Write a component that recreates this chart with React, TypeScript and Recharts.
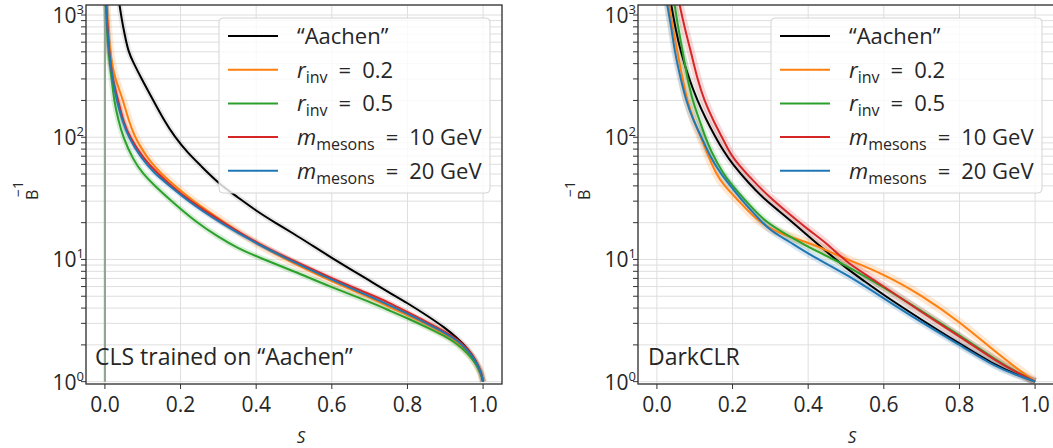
import React from 'react';
import { LineChart, Line, XAxis, YAxis, CartesianGrid } from 'recharts';

type Pt = [number, number];

const FONT = '"Open Sans", "DejaVu Sans", sans-serif';

const S_TICKS = [0, 0.2, 0.4, 0.6, 0.8, 1.0];
const B_TICKS = [1, 2, 3, 4, 5, 6, 7, 8, 9, 10, 20, 30, 40, 50, 60, 70, 80, 90, 100, 200, 300, 400, 500, 600, 700, 800, 900, 1000];
const Y_MIN = 0.957;
const Y_MAX = 1208;

const LEGEND_MAIN = ['“Aachen”', 'r', 'r', 'm', 'm'];
const LEGEND_SUB = ['', 'inv', 'inv', 'mesons', 'mesons'];
const LEGEND_REST = ['', '\u2002=\u20020.2', '\u2002=\u20020.5', '\u2002=\u200210 GeV', '\u2002=\u200220 GeV'];
const COLORS = ['#000000', '#ff7f0e', '#2ca02c', '#d62728', '#1f77b4'];
const BAND_COLORS = ['#7f7f7f', '#ff7f0e', '#2ca02c', '#d62728', '#1f77b4'];

// left panel: CLS trained on "Aachen"
const clsAachen: Pt[] = [[0.033, 1600], [0.037, 1300], [0.045, 900], [0.052, 700], [0.062, 500], [0.075, 410], [0.097, 300], [0.128, 200], [0.155, 140], [0.185, 100], [0.22, 74], [0.25, 60], [0.3, 42], [0.35, 32.5], [0.4, 25], [0.45, 20], [0.5, 16.2], [0.55, 12.9], [0.6, 10.3], [0.65, 8.3], [0.7, 6.7], [0.75, 5.4], [0.8, 4.4], [0.85, 3.5], [0.9, 2.75], [0.93, 2.3], [0.96, 1.85], [0.98, 1.5], [0.995, 1.18], [1, 1]];
const clsR02: Pt[] = [[0.002, 1500], [0.006, 1000], [0.013, 500], [0.02, 380], [0.028, 300], [0.035, 260], [0.048, 200], [0.062, 140], [0.079, 100], [0.1, 78], [0.12, 63], [0.15, 50], [0.185, 40], [0.234, 30], [0.317, 20], [0.41, 12.8], [0.5, 9.3], [0.6, 6.6], [0.7, 4.9], [0.754, 4.05], [0.8, 3.5], [0.85, 2.95], [0.9, 2.45], [0.93, 2.15], [0.96, 1.75], [0.98, 1.45], [0.995, 1.2], [1, 1]];
const clsR05: Pt[] = [[0.002, 1300], [0.005, 800], [0.009, 500], [0.018, 300], [0.024, 200], [0.035, 140], [0.048, 100], [0.075, 65], [0.101, 50], [0.132, 40], [0.176, 30], [0.243, 20], [0.3, 15.3], [0.35, 12.4], [0.41, 10.3], [0.5, 8.0], [0.6, 5.9], [0.7, 4.5], [0.754, 3.8], [0.8, 3.3], [0.85, 2.8], [0.9, 2.35], [0.93, 2.05], [0.96, 1.7], [0.98, 1.42], [0.995, 1.15], [1, 1]];
const clsM10: Pt[] = [[0.002, 1500], [0.006, 900], [0.011, 500], [0.02, 300], [0.035, 200], [0.05, 130], [0.066, 100], [0.1, 68], [0.141, 50], [0.176, 40], [0.225, 30], [0.313, 20], [0.41, 13.2], [0.5, 9.7], [0.6, 7.0], [0.7, 5.2], [0.754, 4.4], [0.8, 3.7], [0.85, 3.1], [0.9, 2.55], [0.93, 2.25], [0.96, 1.85], [0.98, 1.5], [0.995, 1.2], [1, 1]];
const clsM20: Pt[] = [[0.002, 1400], [0.006, 800], [0.011, 500], [0.02, 300], [0.031, 200], [0.045, 140], [0.062, 100], [0.095, 68], [0.132, 50], [0.172, 40], [0.22, 30], [0.304, 20], [0.41, 13], [0.5, 9.5], [0.6, 6.8], [0.7, 5.0], [0.754, 4.2], [0.8, 3.6], [0.85, 3.0], [0.9, 2.5], [0.93, 2.2], [0.96, 1.8], [0.98, 1.48], [0.995, 1.2], [1, 1]];
const clsRandom: Pt[] = [[0, 1], [0, 1500]];

// right panel: DarkCLR
const clrAachen: Pt[] = [[0.033, 1500], [0.038, 1200], [0.05, 750], [0.063, 500], [0.085, 300], [0.107, 200], [0.13, 140], [0.155, 100], [0.175, 78], [0.2, 60], [0.243, 42], [0.28, 32], [0.322, 25], [0.36, 20], [0.4, 15.5], [0.45, 11.5], [0.5, 8.5], [0.55, 6.6], [0.6, 5.1], [0.7, 3.2], [0.8, 2.05], [0.9, 1.33], [0.95, 1.15], [1, 1]];
const clrR02: Pt[] = [[0.03, 1500], [0.032, 1200], [0.045, 700], [0.054, 500], [0.068, 300], [0.08, 200], [0.1, 130], [0.116, 100], [0.13, 78], [0.156, 50], [0.178, 40], [0.217, 30], [0.27, 20], [0.33, 16], [0.406, 13.6], [0.45, 11.8], [0.5, 10.1], [0.6, 7.6], [0.7, 5.1], [0.8, 3.1], [0.9, 1.7], [0.95, 1.3], [1, 1]];
const clrR05: Pt[] = [[0.043, 1500], [0.047, 1200], [0.056, 800], [0.068, 500], [0.081, 300], [0.094, 200], [0.112, 140], [0.128, 100], [0.142, 78], [0.175, 50], [0.2, 40], [0.235, 30], [0.288, 20], [0.35, 15.5], [0.406, 12.3], [0.5, 9.0], [0.6, 5.9], [0.7, 3.8], [0.8, 2.4], [0.9, 1.48], [0.95, 1.2], [1, 1]];
const clrM10: Pt[] = [[0.055, 1500], [0.06, 1200], [0.075, 750], [0.09, 500], [0.107, 300], [0.125, 200], [0.15, 135], [0.172, 100], [0.188, 80], [0.2, 68], [0.26, 42], [0.3, 32], [0.34, 25], [0.4, 17.5], [0.45, 13.5], [0.5, 9.6], [0.55, 7.6], [0.6, 6.0], [0.7, 3.7], [0.8, 2.35], [0.9, 1.45], [0.95, 1.2], [1, 1]];
const clrM20: Pt[] = [[0.024, 1500], [0.027, 1200], [0.038, 800], [0.047, 500], [0.063, 300], [0.077, 200], [0.095, 140], [0.118, 100], [0.14, 70], [0.169, 50], [0.195, 40], [0.226, 30], [0.279, 20], [0.3, 17.3], [0.35, 14], [0.406, 10.8], [0.5, 7.6], [0.6, 4.8], [0.7, 3.05], [0.8, 2.0], [0.9, 1.3], [0.95, 1.14], [1, 1]];

const toRows = (pts: Pt[]) => pts.map(([s, v]) => ({ s, v }));

const YTick = (props: any) => {
  const { x, y, payload } = props;
  const v = payload.value;
  const exp = Math.round(Math.log10(v));
  if (Math.abs(v - Math.pow(10, exp)) > 1e-6) return <g />;
  return (
    <text x={x + 5} y={y + 8} textAnchor="end" fontSize={21} fill="#262626" fontFamily={FONT}>
      10<tspan fontSize={13} dy={-9}>{exp}</tspan>
    </text>
  );
};

interface PanelProps {
  left: number;
  width: number;
  axisWidth: number;
  marginRight: number;
  series: Pt[][];
  bandWidths: number[];
  extra?: Pt[];
}

const Panel: React.FC<PanelProps> = ({ left, width, axisWidth, marginRight, series, bandWidths, extra }) => (
  <div style={{ position: 'absolute', left, top: 0 }}>
    <LineChart width={width} height={448} margin={{ top: 5, right: marginRight, bottom: 24, left: 0 }}>
      <CartesianGrid stroke="#dedede" />
      <XAxis
        type="number"
        dataKey="s"
        domain={[-0.05, 1.05]}
        ticks={S_TICKS}
        interval={0}
        allowDataOverflow
        height={40}
        tickFormatter={(v: number) => v.toFixed(1)}
        axisLine={false}
        tickLine={{ stroke: '#333' }}
        tickSize={5}
        tickMargin={8}
        tick={{ fontSize: 21, fill: '#262626', fontFamily: FONT }}
      />
      <YAxis
        type="number"
        scale="log"
        domain={[Y_MIN, Y_MAX]}
        ticks={B_TICKS}
        interval={0}
        allowDataOverflow
        width={axisWidth}
        axisLine={false}
        tickLine={{ stroke: '#333' }}
        tickSize={5}
        tick={<YTick />}
      />
      {series.map((pts, i) => (
        <Line
          key={`band-${i}`}
          data={toRows(pts)}
          dataKey="v"
          type="basis"
          dot={false}
          stroke={BAND_COLORS[i]}
          strokeOpacity={0.18}
          strokeWidth={bandWidths[i]}
          isAnimationActive={false}
        />
      ))}
      {extra && (
        <Line data={toRows(extra)} dataKey="v" type="linear" dot={false} stroke="#93a593" strokeWidth={2.2} isAnimationActive={false} />
      )}
      {series.map((pts, i) => (
        <Line
          key={`line-${i}`}
          data={toRows(pts)}
          dataKey="v"
          type="basis"
          dot={false}
          stroke={COLORS[i]}
          strokeWidth={2}
          isAnimationActive={false}
        />
      ))}
    </LineChart>
  </div>
);

const LegendBox = ({ x, y }: { x: number; y: number }) => (
  <g>
    <rect x={x} y={y} width={271} height={175} rx={4} fill="#ffffff" fillOpacity={0.8} stroke="#d4d4d4" />
    {COLORS.map((c, i) => {
      const cy = y + 18 + i * 33.7;
      return (
        <g key={i}>
          <line x1={x + 9} x2={x + 59} y1={cy} y2={cy} stroke={c} strokeWidth={2} />
          <text x={x + 78} y={cy + 8} fontSize={22} fill="#262626" fontFamily={FONT}>
            {i === 0 ? (
              LEGEND_MAIN[i]
            ) : (
              <>
                <tspan fontStyle="italic">{LEGEND_MAIN[i]}</tspan>
                <tspan fontSize={16} dy={5}>{LEGEND_SUB[i]}</tspan>
                <tspan dy={-5}>{LEGEND_REST[i]}</tspan>
              </>
            )}
          </text>
        </g>
      );
    })}
  </g>
);

const YLabel = ({ x }: { x: number }) => (
  <g fontFamily={FONT} fill="#262626">
    <text transform={`translate(${x + 24}, 200) rotate(-90)`} fontSize={16}>B</text>
    <text transform={`translate(${x + 9}, 197) rotate(-90)`} fontSize={14}>−1</text>
  </g>
);

export default function App() {
  return (
    <div style={{ position: 'absolute', left: 0, top: 0, width: 1053, height: 448, overflow: 'hidden', background: '#fff' }}>
      <Panel
        left={0}
        width={520}
        axisWidth={86}
        marginRight={18}
        series={[clsAachen, clsR02, clsR05, clsM10, clsM20]}
        bandWidths={[6, 8, 6, 5, 5]}
        extra={clsRandom}
      />
      <Panel
        left={530}
        width={530}
        axisWidth={108}
        marginRight={6}
        series={[clrAachen, clrR02, clrR05, clrM10, clrM20]}
        bandWidths={[7, 9, 6, 8, 7]}
      />
      <svg width={1053} height={448} style={{ position: 'absolute', left: 0, top: 0, pointerEvents: 'none' }}>
        <rect x={86} y={5} width={416} height={379} fill="none" stroke="#333" strokeWidth={1.3} />
        <rect x={638} y={5} width={416} height={379} fill="none" stroke="#333" strokeWidth={1.3} />
        <LegendBox x={219} y={18} />
        <LegendBox x={771} y={18} />
        <text x={95} y={365} fontSize={23} fill="#262626" fontFamily={FONT}>CLS trained on “Aachen”</text>
        <text x={648} y={365} fontSize={23} fill="#262626" fontFamily={FONT}>DarkCLR</text>
        <text x={301} y={443} fontSize={17} fontStyle="italic" textAnchor="middle" fill="#262626" fontFamily={FONT}>S</text>
        <text x={852} y={443} fontSize={17} fontStyle="italic" textAnchor="middle" fill="#262626" fontFamily={FONT}>S</text>
        <YLabel x={14} />
        <YLabel x={566} />
      </svg>
    </div>
  );
}
